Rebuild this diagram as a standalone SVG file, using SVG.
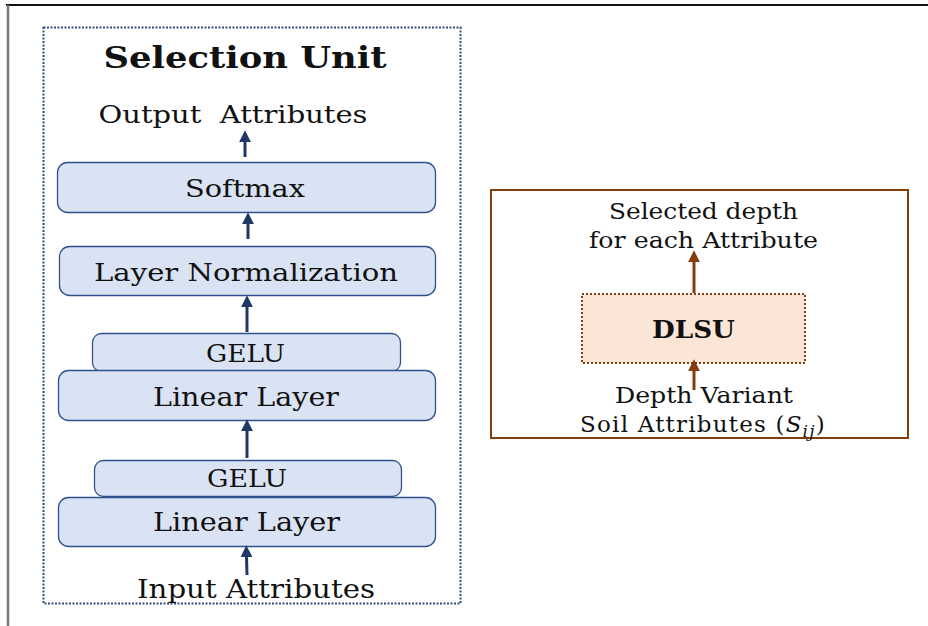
<svg xmlns="http://www.w3.org/2000/svg" width="928" height="626" viewBox="0 0 928 626">
<style>
text{font-family:"DejaVu Serif","Liberation Serif",serif;fill:#111;text-anchor:middle}
.b{font-weight:bold}
.blk{fill:#dae3f3;stroke:#2f528f;stroke-width:1.3}
.na{stroke:#1f3864;stroke-width:3;fill:none;marker-end:url(#an)}
.ba{stroke:#843c0c;stroke-width:3;fill:none;marker-end:url(#ab)}
</style>
<defs>
<marker id="an" viewBox="0 0 10 10" refX="1" refY="5" markerWidth="4" markerHeight="4" orient="auto" markerUnits="strokeWidth"><path d="M0,0 L10,5 L0,10 z" fill="#1f3864"/></marker>
<marker id="ab" viewBox="0 0 10 10" refX="1" refY="5" markerWidth="4" markerHeight="4" orient="auto" markerUnits="strokeWidth"><path d="M0,0 L10,5 L0,10 z" fill="#843c0c"/></marker>
</defs>
<rect width="928" height="626" fill="#fff"/>
<line x1="6" y1="5" x2="928" y2="5" stroke="#111" stroke-width="1.8"/>
<line x1="8" y1="5" x2="8" y2="626" stroke="#777" stroke-width="2.5"/>

<g id="selection-unit">
<rect x="43.5" y="27.5" width="417" height="576" fill="none" stroke="#2f4f7f" stroke-width="2" stroke-dasharray="2 1.5"/>
<text class="b" x="245" y="68" font-size="30" textLength="283" lengthAdjust="spacingAndGlyphs">Selection Unit</text>
<text x="233" y="123" font-size="24" textLength="269" lengthAdjust="spacingAndGlyphs" xml:space="preserve">Output  Attributes</text>
</g>
<g id="softmax">
<rect class="blk" x="57.5" y="162.5" width="378" height="50" rx="10"/>
<text x="245" y="197" font-size="25" textLength="120" lengthAdjust="spacingAndGlyphs">Softmax</text>
</g>
<g id="layer-norm">
<rect class="blk" x="59.5" y="246.5" width="376" height="49" rx="10"/>
<text x="246" y="281" font-size="25" textLength="304" lengthAdjust="spacingAndGlyphs">Layer Normalization</text>
</g>
<g id="gelu-1">
<rect class="blk" x="92.5" y="333.5" width="308" height="38" rx="9"/>
<text x="245.5" y="362" font-size="25" textLength="79" lengthAdjust="spacingAndGlyphs">GELU</text>
</g>
<g id="linear-1">
<rect class="blk" x="58.5" y="370.5" width="377" height="50" rx="10"/>
<text x="246" y="406" font-size="26" textLength="186" lengthAdjust="spacingAndGlyphs">Linear Layer</text>
</g>
<g id="gelu-2">
<rect class="blk" x="94.5" y="460.5" width="307" height="36" rx="9"/>
<text x="247" y="487" font-size="25" textLength="80" lengthAdjust="spacingAndGlyphs">GELU</text>
</g>
<g id="linear-2">
<rect class="blk" x="58.5" y="497.5" width="377" height="49" rx="10"/>
<text x="246.5" y="531" font-size="26" textLength="187" lengthAdjust="spacingAndGlyphs">Linear Layer</text>
</g>
<g id="input">
<text x="256" y="598" font-size="26" textLength="238" lengthAdjust="spacingAndGlyphs">Input Attributes</text>
</g>

<g id="dlsu-panel">
<rect x="491" y="190" width="417" height="248" fill="none" stroke="#843c0c" stroke-width="2"/>
<text x="703.5" y="219" font-size="22" textLength="189" lengthAdjust="spacingAndGlyphs">Selected depth</text>
<text x="703.5" y="248" font-size="22" textLength="229" lengthAdjust="spacingAndGlyphs">for each Attribute</text>
</g>
<g id="dlsu">
<rect x="582" y="294" width="223" height="69" fill="#fbe5d6" stroke="#843c0c" stroke-width="2" stroke-dasharray="2 2"/>
<text class="b" x="693.5" y="338" font-size="25" textLength="83" lengthAdjust="spacingAndGlyphs">DLSU</text>
</g>
<g id="soil">
<text x="704" y="403" font-size="22" textLength="178" lengthAdjust="spacingAndGlyphs">Depth Variant</text>
<text x="703" y="432" font-size="23" letter-spacing="1.2">Soil Attributes (<tspan font-style="italic">S</tspan><tspan font-style="italic" font-size="17" dy="5">ij</tspan><tspan dy="-5">)</tspan></text>
</g>

<g id="connectors">
<line class="na" x1="245" y1="157" x2="245" y2="141"/>
<line class="na" x1="248" y1="239" x2="248" y2="223"/>
<line class="na" x1="247" y1="332" x2="247" y2="306"/>
<line class="na" x1="247" y1="458" x2="247" y2="430"/>
<line class="na" x1="247" y1="575" x2="246.5" y2="556"/>
<line class="ba" x1="694" y1="293" x2="694" y2="261"/>
<line class="ba" x1="694" y1="390" x2="694" y2="370"/>
</g>
</svg>
